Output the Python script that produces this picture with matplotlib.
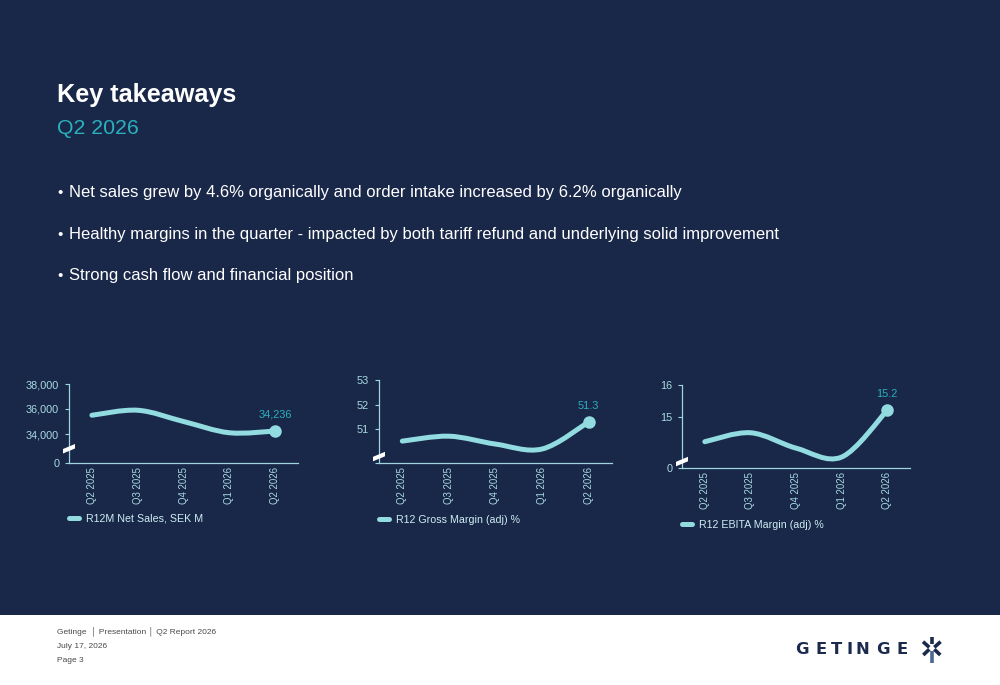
import matplotlib
matplotlib.use("Agg")
import matplotlib.pyplot as plt
import matplotlib.transforms as mtransforms
import numpy as np
from matplotlib.lines import Line2D
from matplotlib.patches import PathPatch, Polygon, Rectangle
from matplotlib.path import Path

# ------------------------------------------------------------
# data
# ------------------------------------------------------------
quarters = ["Q2 2025", "Q3 2025", "Q4 2025", "Q1 2026", "Q2 2026"]
net_sales = [35500, 35900, 35000, 34100, 34236]
gross_margin = [50.52, 50.72, 50.40, 50.20, 51.3]
ebita_margin = [14.22, 14.50, 14.02, 13.74, 15.2]

series_labels = ["R12M Net Sales, SEK M", "R12 Gross Margin (adj) %", "R12 EBITA Margin (adj) %"]
value_labels = ["34,236", "51.3", "15.2"]

# broken axes: the bottom of each axis stands for the value written in base_labels
y_base = [31680, 49.62, 13.39]
y_top = [38000, 53, 16]
y_ticks = [[34000, 36000, 38000], [51, 52, 53], [15, 16]]
y_ticklabels = [["34,000", "36,000", "38,000"], ["51", "52", "53"], ["15", "16"]]
base_labels = ["0", "", "0"]

bullets = [
    "Net sales grew by 4.6% organically and order intake increased by 6.2% organically",
    "Healthy margins in the quarter - impacted by both tariff refund and underlying solid improvement",
    "Strong cash flow and financial position",
]

# ------------------------------------------------------------
# style
# ------------------------------------------------------------
NAVY = "#192749"
LINE = "#92dbe0"
SPINE = "#9fd6dd"
TICK = "#a9dbe2"
TEAL = "#2bb0bd"
LEG = "#cdeef2"
FONT = ["Liberation Sans", "DejaVu Sans"]

W, H = 1000, 685


def fx(px):
    return px / W


def fy(py):
    return 1 - py / H


def smooth_path(xs, ys):
    """Catmull-Rom style cubic Bezier through the points (PowerPoint smoothed line)."""
    pts = np.column_stack([xs, ys]).astype(float)
    p = np.vstack([pts[0], pts, pts[-1]])
    verts = [pts[0]]
    codes = [Path.MOVETO]
    for i in range(len(pts) - 1):
        p0, p1, p2, p3 = p[i], p[i + 1], p[i + 2], p[i + 3]
        verts += [p1 + (p2 - p0) / 6, p2 - (p3 - p1) / 6, p2]
        codes += [Path.CURVE4] * 3
    return Path(verts, codes)


fig = plt.figure(figsize=(10, 6.85), dpi=100, facecolor=NAVY)

# white footer band
fig.patches.append(Rectangle((0, 0), 1, fy(615), transform=fig.transFigure,
                             facecolor="white", edgecolor="none", zorder=0))

# title + subtitle
fig.text(fx(57), fy(102), "Key takeaways", color="white", fontsize=18.2,
         fontweight="bold", family=FONT, va="baseline")
fig.text(fx(57), fy(134), "Q2 2026", color=TEAL, fontsize=15.3, family=FONT, va="baseline")

for i, b in enumerate(bullets):
    yb = 197 + i * 41.5
    fig.text(fx(57), fy(yb), "\u2022", color="white", fontsize=11, family=FONT, va="baseline")
    fig.text(fx(69), fy(yb), b, color="white", fontsize=12, family=FONT, va="baseline")

# ------------------------------------------------------------
# the three small charts
# ------------------------------------------------------------
axes_px = [  # left, right, top, bottom in pixels
    (69, 298, 384, 463),
    (379, 612, 380, 463.3),
    (682, 910, 384.7, 468.3),
]
legend_y = [-0.70, -0.68, -0.675]
break_px = [14.5, 7, 7]
values = [net_sales, gross_margin, ebita_margin]

for k in range(3):
    l, r, t, b = axes_px[k]
    ax = fig.add_axes([fx(l), fy(b), fx(r - l), (b - t) / H])
    ax.set_facecolor("none")
    x = np.arange(len(quarters))
    y = values[k]

    ax.add_patch(PathPatch(smooth_path(x, y), facecolor="none", edgecolor=LINE,
                           lw=3.6, capstyle="round", joinstyle="round", zorder=3))
    ax.plot(x[-1], y[-1], "o", color=LINE, ms=8, zorder=4)
    ax.annotate(value_labels[k], xy=(x[-1], y[-1]), xytext=(0, 9.5),
                textcoords="offset points", ha="center", va="baseline",
                color=TEAL, fontsize=7.9, family=FONT)

    ax.set_xlim(-0.5, len(quarters) - 0.5)
    ax.set_ylim(y_base[k], y_top[k])
    ax.set_xticks(x)
    ax.set_xticklabels(quarters, rotation=90, fontsize=6.9, family=FONT, color=TICK)
    ax.set_yticks([y_base[k]] + y_ticks[k])
    ax.set_yticklabels([base_labels[k]] + y_ticklabels[k], fontsize=7.8,
                       family=FONT, color=TICK)
    ax.tick_params(axis="x", length=0, pad=3)
    ax.tick_params(axis="y", length=2.6, width=0.8, color=SPINE, pad=4.5)
    for s in ("top", "right"):
        ax.spines[s].set_visible(False)
    for s in ("left", "bottom"):
        ax.spines[s].set_color(SPINE)
        ax.spines[s].set_linewidth(0.9)

    # axis break mark on the y axis
    tr = fig.dpi_scale_trans + mtransforms.ScaledTranslation(
        0, 0, ax.transAxes) + mtransforms.ScaledTranslation(0, break_px[k] / 100, fig.dpi_scale_trans)
    brk = np.array([(-6, -5), (6, 0), (6, 4.5), (-6, -0.5)]) / 100
    ax.add_patch(Polygon(brk, closed=True, transform=tr, facecolor="white",
                         edgecolor="none", clip_on=False, zorder=5))

    handle = Line2D([], [], color=LINE, lw=3.6, solid_capstyle="round")
    leg = ax.legend([handle], [series_labels[k]], loc="center left",
                    bbox_to_anchor=(0, legend_y[k]), frameon=False,
                    handlelength=0.95, handletextpad=0.6, borderaxespad=0,
                    borderpad=0, prop={"family": FONT, "size": 7.7})
    for txt in leg.get_texts():
        txt.set_color(LEG)

# ------------------------------------------------------------
# footer
# ------------------------------------------------------------
FOOT = "#4a4a4a"
fig.text(fx(57), fy(633.3), "Getinge  \u2502 Presentation \u2502 Q2 Report 2026",
         color=FOOT, fontsize=6.0, family=FONT, va="baseline")
fig.text(fx(57), fy(648.3), "July 17, 2026", color=FOOT, fontsize=6.0,
         family=FONT, va="baseline")
fig.text(fx(57), fy(661.7), "Page 3", color=FOOT, fontsize=6.0,
         family=FONT, va="baseline")

# logo word mark
LOGO = "#1b2a4d"
for ch, cx in zip("GETINGE", [802, 821, 836.5, 849.5, 862.5, 882.5, 902]):
    fig.text(fx(cx), fy(654), ch, color=LOGO, fontsize=11.8, family="DejaVu Sans",
             fontweight="semibold", ha="center", va="baseline")

# logo symbol
sym = [
    ((931.8, 931.8), (636.5, 643.5), LOGO),
    ((923, 929.3), (641.7, 647.3), LOGO),
    ((923.3, 929.3), (655, 649.3), LOGO),
    ((940.6, 934.3), (641.7, 647.3), LOGO),
    ((940.3, 934.3), (655, 649.3), LOGO),
    ((931.8, 931.8), (651, 662.5), "#4b6890"),
]
for xs, ys, c in sym:
    fig.lines.append(Line2D([fx(v) for v in xs], [fy(v) for v in ys], color=c,
                            lw=2.6, solid_capstyle="butt", transform=fig.transFigure))

fig.savefig("out.png", dpi=100, facecolor=NAVY)
